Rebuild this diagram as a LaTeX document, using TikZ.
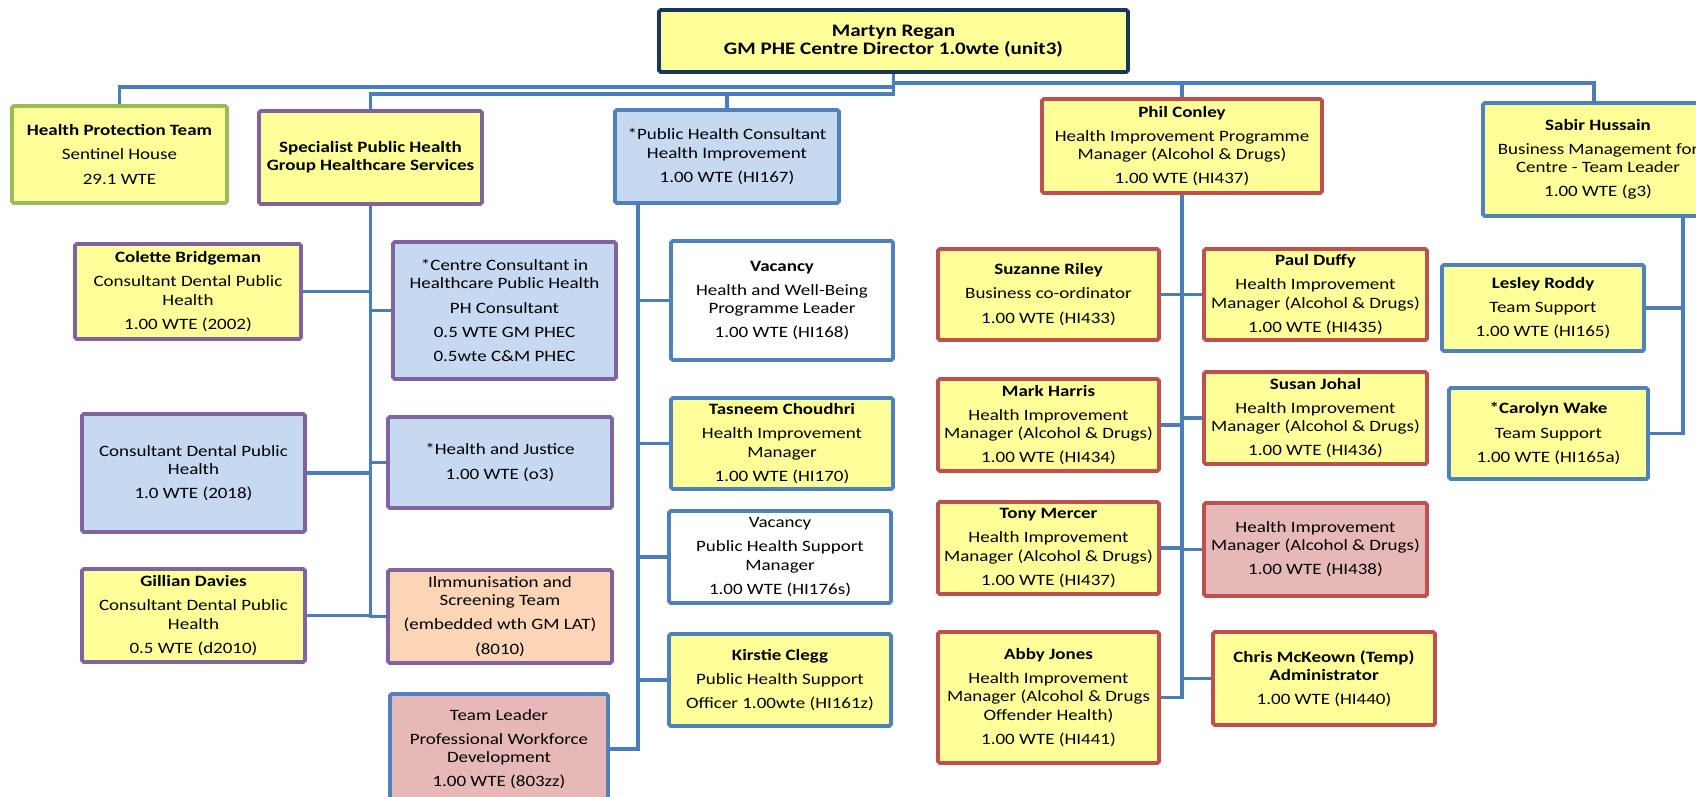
\documentclass[tikz,border=0pt]{standalone}
\usepackage{fontspec}
\setmainfont{Carlito}[FakeStretch=1.2]

\definecolor{fillyel}{HTML}{FFFF99}
\definecolor{fillblue}{HTML}{C6D9F1}
\definecolor{fillpeach}{HTML}{FBD5B5}
\definecolor{fillpink}{HTML}{E6B9B8}
\definecolor{bordpurple}{HTML}{8064A2}
\definecolor{bordgreen}{HTML}{9BBB59}
\definecolor{bordred}{HTML}{C0504D}
\definecolor{bordblue}{HTML}{4F81BD}
\definecolor{bordnavy}{HTML}{17375E}
\definecolor{linkblue}{HTML}{4A7EBB}

\tikzset{
  card/.style={draw, line width=2.2pt, rounded corners=1pt, align=center,
    inner sep=0pt, font=\fontsize{9}{10.3}\selectfont},
  boxsize/.style 2 args={minimum width=#1*0.02cm, minimum height=#2*0.02cm},
  yel/.style={fill=fillyel},
  blu/.style={fill=fillblue},
  purp/.style={draw=bordpurple},
  redb/.style={draw=bordred},
  blub/.style={draw=bordblue},
  link/.style={draw=linkblue, line width=2pt}
}

\begin{document}
\begin{tikzpicture}[x=0.02cm, y=-0.02cm]
\path[use as bounding box, fill=white] (0,0) rectangle (1696,797);

% top row
\node[card, yel, draw=bordnavy, boxsize={469}{62}, font=\fontsize{10}{10.5}\selectfont\bfseries] (dir) at (893.5,41) {Martyn Regan\\GM PHE Centre Director 1.0wte (unit3)};
\node[card, yel, draw=bordgreen, boxsize={215}{97}] (hpt) at (119.5,154.5) {\textbf{Health Protection Team}\\[3.4pt]Sentinel House\\[3.4pt]29.1 WTE};
\node[card, yel, purp, boxsize={223}{93}] (spec) at (370.5,157.5) {\textbf{Specialist Public Health}\\\textbf{Group Healthcare Services}};
\node[card, blu, blub, boxsize={224}{93}] (phc) at (727,156.5) {*Public Health Consultant\\Health Improvement\\[3.4pt]1.00 WTE (HI167)};
\node[card, yel, redb, boxsize={280}{94}] (phil) at (1182,146) {\textbf{Phil Conley}\\[3.4pt]Health Improvement Programme\\Manager (Alcohol \& Drugs)\\[3.4pt]1.00 WTE (HI437)};
\node[card, yel, blub, boxsize={230}{113}] (sabir) at (1598,159.5) {\textbf{Sabir Hussain}\\[3.4pt]Business Management for\\Centre - Team Leader\\[3.4pt]1.00 WTE (g3)};

% specialist group
\node[card, yel, purp, boxsize={226}{95}] (colette) at (188,291.5) {\textbf{Colette Bridgeman}\\[3.4pt]Consultant Dental Public\\Health\\[3.4pt]1.00 WTE (2002)};
\node[card, blu, purp, boxsize={223}{137}] (centre) at (504.5,310.5) {*Centre Consultant in\\Healthcare Public Health\\[3.4pt]PH Consultant\\[3.4pt]0.5 WTE GM PHEC\\[3.4pt]0.5wte C\&M PHEC};
\node[card, blu, purp, boxsize={223}{118}] (cdph) at (193.5,473) {Consultant Dental Public\\Health\\[3.4pt]1.0 WTE (2018)};
\node[card, blu, purp, boxsize={224}{91}] (hj) at (500,462.5) {*Health and Justice\\[3.4pt]1.00 WTE (o3)};
\node[card, yel, purp, boxsize={223}{93}] (gillian) at (193.5,615.5) {\textbf{Gillian Davies}\\[3.4pt]Consultant Dental Public\\Health\\[3.4pt]0.5 WTE (d2010)};
\node[card, fill=fillpeach, purp, boxsize={224}{93}] (imm) at (500,616.5) {Ilmmunisation and\\Screening Team\\[3.4pt](embedded wth GM LAT)\\[3.4pt](8010)};
\node[card, fill=fillpink, blub, boxsize={218}{110}] (tl) at (499,749) {Team Leader\\[3.4pt]Professional Workforce\\Development\\[3.4pt]1.00 WTE (803zz)};

% health improvement consultant
\node[card, fill=white, blub, boxsize={222}{119}] (vac1) at (782,300.5) {\textbf{Vacancy}\\[3.4pt]Health and Well-Being\\Programme Leader\\[3.4pt]1.00 WTE (HI168)};
\node[card, yel, blub, boxsize={222}{91}] (tas) at (782,443.5) {\textbf{Tasneem Choudhri}\\[3.4pt]Health Improvement\\Manager\\[3.4pt]1.00 WTE (HI170)};
\node[card, fill=white, blub, boxsize={222}{92}] (vac2) at (780,557) {Vacancy\\[3.4pt]Public Health Support\\Manager\\[3.4pt]1.00 WTE (HI176s)};
\node[card, yel, blub, boxsize={222}{92}] (kir) at (780,680) {\textbf{Kirstie Clegg}\\[3.4pt]Public Health Support\\[3.4pt]Officer 1.00wte (HI161z)};

% programme manager team
\node[card, yel, redb, boxsize={221}{91}] (suz) at (1048.5,294.5) {\textbf{Suzanne Riley}\\[3.4pt]Business co-ordinator\\[3.4pt]1.00 WTE (HI433)};
\node[card, yel, redb, boxsize={221}{92}] (mark) at (1048.5,425) {\textbf{Mark Harris}\\[3.4pt]Health Improvement\\Manager (Alcohol \& Drugs)\\[3.4pt]1.00 WTE (HI434)};
\node[card, yel, redb, boxsize={221}{92}] (tony) at (1048.5,548) {\textbf{Tony Mercer}\\[3.4pt]Health Improvement\\Manager (Alcohol \& Drugs)\\[3.4pt]1.00 WTE (HI437)};
\node[card, yel, redb, boxsize={221}{131}] (abby) at (1048.5,697.5) {\textbf{Abby Jones}\\[3.4pt]Health Improvement\\Manager (Alcohol \& Drugs\\Offender Health)\\[3.4pt]1.00 WTE (HI441)};
\node[card, yel, redb, boxsize={223}{91}] (paul) at (1315.5,294.5) {\textbf{Paul Duffy}\\[3.4pt]Health Improvement\\Manager (Alcohol \& Drugs)\\[3.4pt]1.00 WTE (HI435)};
\node[card, yel, redb, boxsize={223}{92}] (susan) at (1315.5,418) {\textbf{Susan Johal}\\[3.4pt]Health Improvement\\Manager (Alcohol \& Drugs)\\[3.4pt]1.00 WTE (HI436)};
\node[card, fill=fillpink, redb, boxsize={223}{93}] (him) at (1315.5,549.5) {Health Improvement\\Manager (Alcohol \& Drugs)\\[3.4pt]1.00 WTE (HI438)};
\node[card, yel, redb, boxsize={222}{93}] (chris) at (1324,678.5) {\textbf{Chris McKeown (Temp)}\\\textbf{Administrator}\\[3.4pt]1.00 WTE (HI440)};

% business team
\node[card, yel, blub, boxsize={202}{86}] (lesley) at (1543,308) {\textbf{Lesley Roddy}\\[3.4pt]Team Support\\[3.4pt]1.00 WTE (HI165)};
\node[card, yel, blub, boxsize={199}{91}] (carolyn) at (1548.5,433.5) {\textbf{*Carolyn Wake}\\[3.4pt]Team Support\\[3.4pt]1.00 WTE (HI165a)};

% director to heads
\draw[link] (dir.south) |- (hpt.north |- 0,87) -- (hpt.north);
\draw[link] (dir.south) |- (spec.north |- 0,94) -- (spec.north);
\draw[link] (dir.south) |- (phc.north |- 0,94) -- (phc.north);
\draw[link] (dir.south) |- (phil.north |- 0,83) -- (phil.north);
\draw[link] (dir.south) |- (1594,83) -- (1594,103);

% specialist trunk
\draw[link] (spec.south) |- (imm.west);
\draw[link] (colette.east) -- (colette.east -| spec.south);
\draw[link] (centre.west) -- (centre.west -| spec.south);
\draw[link] (cdph.east) -- (cdph.east -| spec.south);
\draw[link] (hj.west) -- (hj.west -| spec.south);
\draw[link] (gillian.east) -- (gillian.east -| spec.south);

% consultant trunk
\coordinate (phcT) at (638,203);
\draw[link] (phcT) |- (tl.east);
\draw[link] (vac1.west) -- (vac1.west -| phcT);
\draw[link] (tas.west) -- (tas.west -| phcT);
\draw[link] (vac2.west) -- (vac2.west -| phcT);
\draw[link] (kir.west) -- (kir.west -| phcT);

% programme manager trunk
\draw[link] (phil.south) |- (abby.east);
\draw[link] (suz.east) -- (suz.east -| phil.south);
\draw[link] (mark.east) -- (mark.east -| phil.south);
\draw[link] (tony.east) -- (tony.east -| phil.south);
\draw[link] (paul.west) -- (paul.west -| phil.south);
\draw[link] (susan.west) -- (susan.west -| phil.south);
\draw[link] (him.west) -- (him.west -| phil.south);
\draw[link] (chris.west) -- (chris.west -| phil.south);

% business trunk
\coordinate (sabT) at (1683,216);
\draw[link] (sabT) |- (carolyn.east);
\draw[link] (lesley.east) -- (lesley.east -| sabT);
\end{tikzpicture}
\end{document}
